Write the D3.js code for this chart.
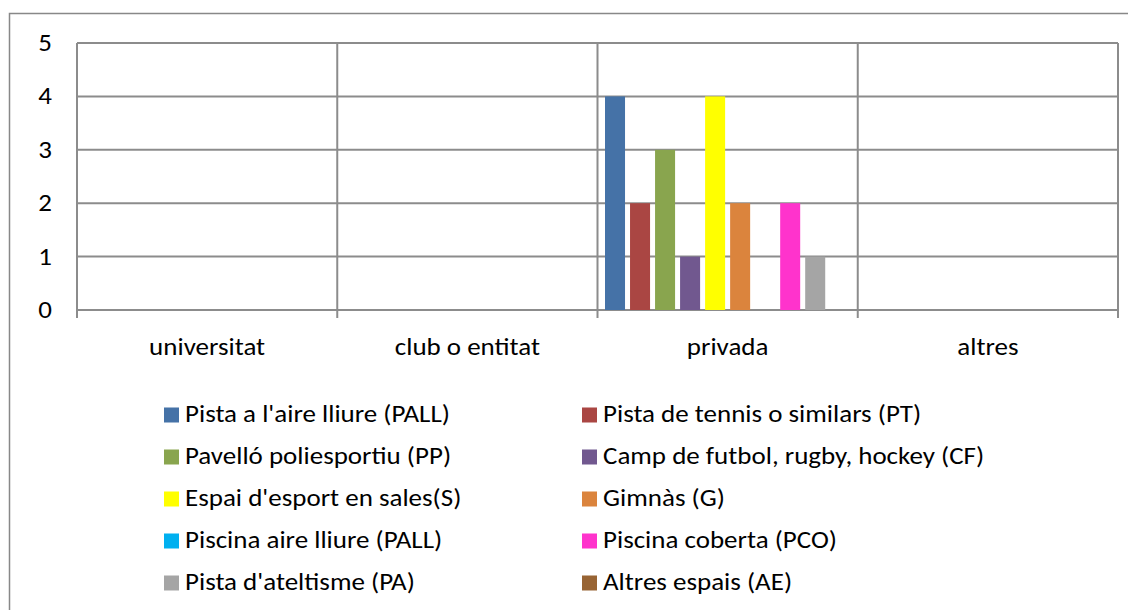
<!DOCTYPE html>
<html>
<head>
<meta charset="utf-8">
<script src="https://cdn.jsdelivr.net/npm/d3@7"></script>
<style>
  body { margin: 0; background: #fff; }
  svg { display: block; font-family: Carlito, Calibri, "Open Sans", sans-serif; }
</style>
</head>
<body>
<div id="chart"></div>
<script>
const categories = ["universitat", "club o entitat", "privada", "altres"];
const seriesNames = [
  "Pista a l'aire lliure (PALL)", "Pista de tennis o similars (PT)",
  "Pavelló poliesportiu (PP)", "Camp de futbol, rugby, hockey (CF)",
  "Espai d'esport en sales(S)", "Gimnàs (G)",
  "Piscina aire lliure (PALL)", "Piscina coberta (PCO)",
  "Pista d'ateltisme (PA)", "Altres espais (AE)"
];
const seriesColors = ["#4572a7", "#aa4643", "#89a54e", "#71588f", "#ffff00",
  "#db843d", "#00b0f0", "#ff33cc", "#a5a5a5", "#986434"];
// values per series, in category order
const valPALL = [0, 0, 4, 0];
const valPT   = [0, 0, 2, 0];
const valPP   = [0, 0, 3, 0];
const valCF   = [0, 0, 1, 0];
const valS    = [0, 0, 4, 0];
const valG    = [0, 0, 2, 0];
const valPAL2 = [0, 0, 0, 0];
const valPCO  = [0, 0, 2, 0];
const valPA   = [0, 0, 1, 0];
const valAE   = [0, 0, 0, 0];
const yTicks = [0, 1, 2, 3, 4, 5];

const allVals = [valPALL, valPT, valPP, valCF, valS, valG, valPAL2, valPCO, valPA, valAE];
const data = categories.map((c, ci) => ({
  cat: c,
  vals: seriesNames.map((s, si) => ({ s, si, v: allVals[si][ci] }))
}));

const W = 1128, H = 610;
const m = { l: 77, r: 1118, t: 43, b: 310 };
const grid = "#8c8c8c";
const fs = 24;
const sx = 1.125; // source picture is a bit wider than tall

const svg = d3.select("#chart").append("svg").attr("width", W).attr("height", H);

// chart frame
svg.append("rect").attr("x", 9.5).attr("y", 13.5).attr("width", 1130).attr("height", 610)
  .attr("fill", "none").attr("stroke", "#888").attr("stroke-width", 1.5);

const x0 = d3.scaleBand().domain(categories).range([m.l, m.r]).padding(0);
const x1 = d3.scaleBand().domain(seriesNames).range([0, x0.bandwidth()]).paddingInner(0.2).paddingOuter(0.3);
const y = d3.scaleLinear().domain([0, 5]).range([m.b, m.t]);

// horizontal gridlines
svg.append("g").selectAll("line").data(yTicks).join("line")
  .attr("x1", m.l).attr("x2", m.r)
  .attr("y1", d => y(d)).attr("y2", d => y(d))
  .attr("stroke", grid).attr("stroke-width", 2);

// vertical category lines with ticks below the axis
const bounds = categories.map(c => x0(c)).concat([m.r]);
svg.append("g").selectAll("line").data(bounds).join("line")
  .attr("x1", d => d).attr("x2", d => d)
  .attr("y1", m.t).attr("y2", m.b + 8)
  .attr("stroke", grid).attr("stroke-width", 2);

// y labels
svg.append("g").selectAll("text").data(yTicks).join("text")
  .attr("transform", d => `translate(45,${y(d) + 8}) scale(${sx},1)`)
  .attr("text-anchor", "middle")
  .attr("font-size", fs).attr("fill", "#000")
  .text(d => d);

// bars
svg.append("g").selectAll("g").data(data).join("g")
  .attr("transform", d => `translate(${x0(d.cat)},0)`)
  .selectAll("rect").data(d => d.vals.filter(e => e.v > 0)).join("rect")
  .attr("x", d => x1(d.s))
  .attr("width", x1.bandwidth())
  .attr("y", d => y(d.v))
  .attr("height", d => y(0) - y(d.v))
  .attr("fill", d => seriesColors[d.si]);

// x labels
svg.append("g").selectAll("text").data(categories).join("text")
  .attr("transform", d => `translate(${x0(d) + x0.bandwidth() / 2},355) scale(${sx},1)`)
  .attr("text-anchor", "middle")
  .attr("font-size", fs).attr("fill", "#000")
  .text(d => d);

// legend, two columns
const colX = [164, 582];
const rowY = d3.range(5).map(i => 421.5 + i * 42);
const leg = svg.append("g").selectAll("g").data(seriesNames).join("g")
  .attr("transform", (d, i) => `translate(${colX[i % 2]},${rowY[Math.floor(i / 2)]})`);
leg.append("rect").attr("x", 0).attr("y", -14).attr("width", 15).attr("height", 15)
  .attr("fill", (d, i) => seriesColors[i]);
leg.append("text").attr("transform", `translate(21,0) scale(${sx},1)`)
  .attr("font-size", fs).attr("fill", "#000")
  .text(d => d);
</script>
</body>
</html>
